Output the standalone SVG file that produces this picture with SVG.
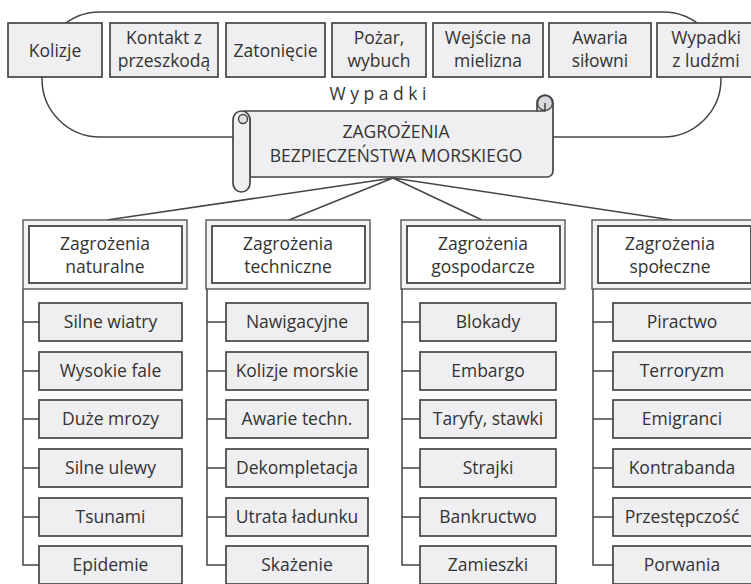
<svg xmlns="http://www.w3.org/2000/svg" width="751" height="584" viewBox="0 0 751 584">
<style>
.bx{fill:#efeff1;stroke:#454545;stroke-width:1.7}
.ln{fill:none;stroke:#454545;stroke-width:1.5}
.ob{fill:#f3f3f3;stroke:#555;stroke-width:1.4}
.ib{fill:#ffffff;stroke:#454545;stroke-width:1.8}
.t{font-family:"Open Sans","Noto Sans",sans-serif;font-size:17.5px;fill:#333;text-anchor:middle}
</style>
<rect width="751" height="584" fill="#ffffff"/>
<g id="wypadki-frame">
<rect class="ln" x="42" y="12" width="679" height="125" rx="58" ry="58"/>
<text class="t" x="378" y="100">W y p a d k i</text>
</g>
<g id="kolizje"><rect class="bx" x="8" y="23" width="94" height="54"/><text class="t" x="55" y="57">Kolizje</text></g>
<g id="kontakt"><rect class="bx" x="110" y="23" width="108" height="54"/><text class="t" x="164" y="44">Kontakt z</text><text class="t" x="164" y="67">przeszkodą</text></g>
<g id="zatoniecie"><rect class="bx" x="226" y="23" width="99" height="54"/><text class="t" x="275.5" y="57">Zatonięcie</text></g>
<g id="pozar"><rect class="bx" x="332" y="23" width="94" height="54"/><text class="t" x="379" y="44">Pożar,</text><text class="t" x="379" y="67">wybuch</text></g>
<g id="mielizna"><rect class="bx" x="433" y="23" width="110" height="54"/><text class="t" x="488" y="44">Wejście na</text><text class="t" x="488" y="67">mielizna</text></g>
<g id="awaria"><rect class="bx" x="549" y="23" width="102" height="54"/><text class="t" x="600" y="44">Awaria</text><text class="t" x="600" y="67">siłowni</text></g>
<g id="ludzie"><rect class="bx" x="657" y="23" width="100" height="54"/><text class="t" x="706" y="44">Wypadki</text><text class="t" x="706" y="67">z ludźmi</text></g>

<g id="connectors">
<path class="ln" d="M393,178 L107,220 M393,178 L289,220 M393,178 L482,220 M393,178 L672,220"/>
<path class="ln" d="M23,289 V565 H39 M23,322 H39 M23,371 H39 M23,419 H39 M23,468 H39 M23,517 H39"/>
<path class="ln" d="M207,289 V565 H226 M207,322 H226 M207,371 H226 M207,419 H226 M207,468 H226 M207,517 H226"/>
<path class="ln" d="M402,289 V565 H420 M402,322 H420 M402,371 H420 M402,419 H420 M402,468 H420 M402,517 H420"/>
<path class="ln" d="M593,289 V565 H613 M593,322 H613 M593,371 H613 M593,419 H613 M593,468 H613 M593,517 H613"/>
</g>

<g id="scroll">
<path class="bx" d="M245,111 H537 V103 A8,8 0 0 1 553,103 V171 A6,6 0 0 1 547,177 H250 V119 Z"/>
<circle cx="545" cy="103" r="7.5" fill="#d8d8dc" stroke="#454545" stroke-width="1.4"/>
<path class="ln" d="M537,111 H545 V103"/>
<rect class="bx" x="233" y="111" width="17" height="81" rx="8.5" ry="8.5"/>
<circle cx="243" cy="119" r="4.5" fill="#e2e2e6" stroke="#454545" stroke-width="1.4"/>
<text class="t" x="396" y="138">ZAGROŻENIA</text>
<text class="t" x="396" y="162">BEZPIECZEŃSTWA MORSKIEGO</text>
</g>

<g id="naturalne"><rect class="ob" x="23" y="220" width="164" height="69"/><rect class="ib" x="29" y="226" width="153" height="57"/><text class="t" x="105" y="250">Zagrożenia</text><text class="t" x="105" y="273">naturalne</text></g>
<g id="techniczne"><rect class="ob" x="206" y="220" width="164" height="69"/><rect class="ib" x="212" y="226" width="153" height="57"/><text class="t" x="288" y="250">Zagrożenia</text><text class="t" x="288" y="273">techniczne</text></g>
<g id="gospodarcze"><rect class="ob" x="401" y="220" width="164" height="69"/><rect class="ib" x="407" y="226" width="153" height="57"/><text class="t" x="483" y="250">Zagrożenia</text><text class="t" x="483" y="273">gospodarcze</text></g>
<g id="spoleczne"><rect class="ob" x="592" y="220" width="164" height="69"/><rect class="ib" x="598" y="226" width="153" height="57"/><text class="t" x="670" y="250">Zagrożenia</text><text class="t" x="670" y="273">społeczne</text></g>

<g id="n1"><rect class="bx" x="39" y="303" width="143" height="38"/><text class="t" x="110.5" y="328">Silne wiatry</text></g>
<g id="n2"><rect class="bx" x="39" y="352" width="143" height="38"/><text class="t" x="110.5" y="377">Wysokie fale</text></g>
<g id="n3"><rect class="bx" x="39" y="400" width="143" height="38"/><text class="t" x="110.5" y="425">Duże mrozy</text></g>
<g id="n4"><rect class="bx" x="39" y="449" width="143" height="38"/><text class="t" x="110.5" y="474">Silne ulewy</text></g>
<g id="n5"><rect class="bx" x="39" y="498" width="143" height="38"/><text class="t" x="110.5" y="523">Tsunami</text></g>
<g id="n6"><rect class="bx" x="39" y="546" width="143" height="38"/><text class="t" x="110.5" y="571">Epidemie</text></g>

<g id="t1"><rect class="bx" x="226" y="303" width="142" height="38"/><text class="t" x="297" y="328">Nawigacyjne</text></g>
<g id="t2"><rect class="bx" x="226" y="352" width="142" height="38"/><text class="t" x="297" y="377">Kolizje morskie</text></g>
<g id="t3"><rect class="bx" x="226" y="400" width="142" height="38"/><text class="t" x="297" y="425">Awarie techn.</text></g>
<g id="t4"><rect class="bx" x="226" y="449" width="142" height="38"/><text class="t" x="297" y="474">Dekompletacja</text></g>
<g id="t5"><rect class="bx" x="226" y="498" width="142" height="38"/><text class="t" x="297" y="523">Utrata ładunku</text></g>
<g id="t6"><rect class="bx" x="226" y="546" width="142" height="38"/><text class="t" x="297" y="571">Skażenie</text></g>

<g id="e1"><rect class="bx" x="420" y="303" width="136" height="38"/><text class="t" x="488" y="328">Blokady</text></g>
<g id="e2"><rect class="bx" x="420" y="352" width="136" height="38"/><text class="t" x="488" y="377">Embargo</text></g>
<g id="e3"><rect class="bx" x="420" y="400" width="136" height="38"/><text class="t" x="488" y="425">Taryfy, stawki</text></g>
<g id="e4"><rect class="bx" x="420" y="449" width="136" height="38"/><text class="t" x="488" y="474">Strajki</text></g>
<g id="e5"><rect class="bx" x="420" y="498" width="136" height="38"/><text class="t" x="488" y="523">Bankructwo</text></g>
<g id="e6"><rect class="bx" x="420" y="546" width="136" height="38"/><text class="t" x="488" y="571">Zamieszki</text></g>

<g id="s1"><rect class="bx" x="613" y="303" width="145" height="38"/><text class="t" x="682" y="328">Piractwo</text></g>
<g id="s2"><rect class="bx" x="613" y="352" width="145" height="38"/><text class="t" x="682" y="377">Terroryzm</text></g>
<g id="s3"><rect class="bx" x="613" y="400" width="145" height="38"/><text class="t" x="682" y="425">Emigranci</text></g>
<g id="s4"><rect class="bx" x="613" y="449" width="145" height="38"/><text class="t" x="682" y="474">Kontrabanda</text></g>
<g id="s5"><rect class="bx" x="613" y="498" width="145" height="38"/><text class="t" x="682" y="523">Przestępczość</text></g>
<g id="s6"><rect class="bx" x="613" y="546" width="145" height="38"/><text class="t" x="682" y="571">Porwania</text></g>
</svg>
